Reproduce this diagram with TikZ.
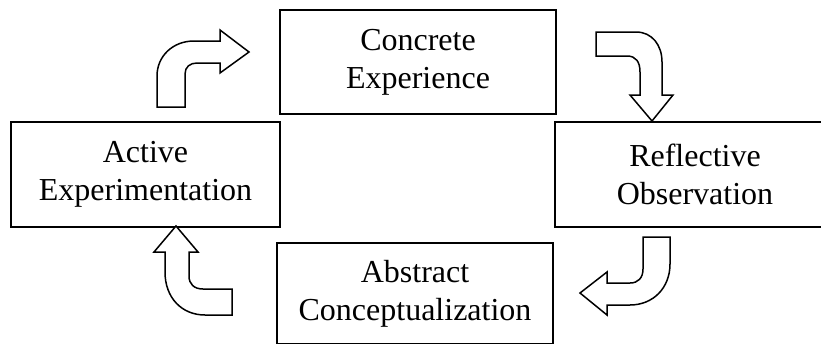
\documentclass[tikz,border=0pt]{standalone}
\usepackage{fontspec}
\setmainfont{Liberation Serif}
\begin{document}
\begin{tikzpicture}[x=1pt,y=-1pt,
  stage/.style={draw=black,line width=1.5pt,rectangle,inner sep=0pt,align=center,
    font=\fontsize{32}{38}\selectfont},
  blockarrow/.style={draw=black,fill=white,line width=1.5pt,line join=miter}]
\useasboundingbox (0,0) rectangle (821,343);
\node[stage,minimum width=276pt,minimum height=104pt] (ce) at (418,62) {Concrete\\Experience};
\node[stage,minimum width=269pt,minimum height=105pt] (ae) at (145.5,174.5) {Active\\Experimentation};
\node[stage,minimum width=280pt,minimum height=105pt] (ro) at (695,174.5) {Reflective\\Observation};
\node[stage,minimum width=276pt,minimum height=101pt] (ac) at (415,293.5) {Abstract\\Conceptualization};
% top-left arrow
\draw[blockarrow] (157,107) -- (157,76) .. controls (157,56) and (173,41) .. (194,41) -- (220,41)
  -- (220,30) -- (249,52) -- (220,73) -- (220,63) -- (197,63)
  .. controls (190,63) and (185,67) .. (185,74) -- (185,107) -- cycle;
% top-right arrow
\draw[blockarrow] (596,32) -- (636,32) .. controls (652,32) and (662,45) .. (662,62) -- (662,95)
  -- (673,95) -- (652,121) -- (630,95) -- (640,95) -- (640,72)
  .. controls (640,62) and (636,56) .. (627,56) -- (596,56) -- cycle;
% bottom-right arrow
\draw[blockarrow] (643,237) -- (670,237) -- (670,264) .. controls (670,288) and (653,305) .. (630,305)
  -- (607,305) -- (607,315) -- (580,293) -- (607,272) -- (607,283) -- (630,283)
  .. controls (638,283) and (643,278) .. (643,269) -- cycle;
% bottom-left arrow
\draw[blockarrow] (176,226) -- (198,252) -- (189,252) -- (189,276)
  .. controls (189,284) and (194,289) .. (203,289) -- (232,289) -- (232,315) -- (205,315)
  .. controls (182,315) and (165,298) .. (165,272) -- (165,252) -- (154,252) -- cycle;
\end{tikzpicture}
\end{document}
